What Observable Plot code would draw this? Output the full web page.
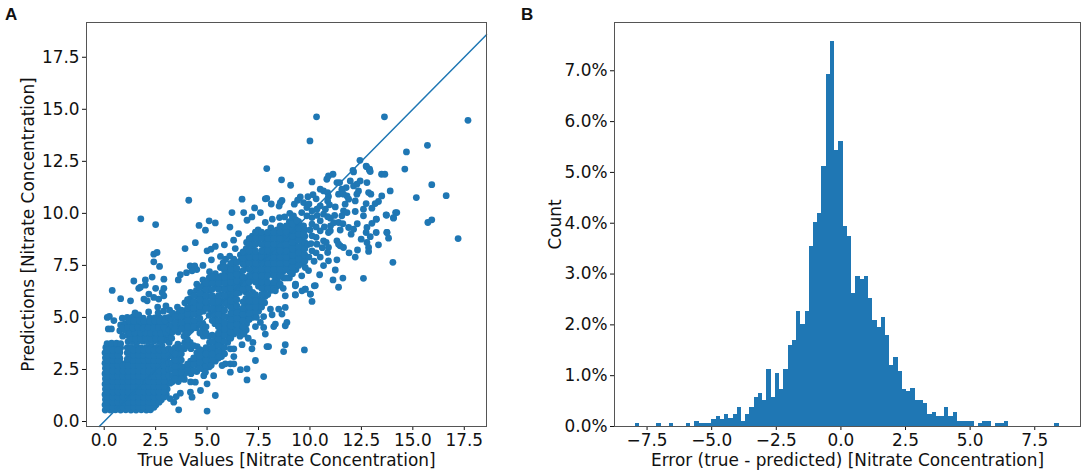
<!DOCTYPE html>
<html>
<head>
<meta charset="utf-8">
<script src="https://cdn.jsdelivr.net/npm/d3@7"></script>
<script src="https://cdn.jsdelivr.net/npm/@observablehq/plot@0.6"></script>
<style>
  html, body { margin: 0; padding: 0; background: #fff; width: 1084px; height: 473px; overflow: hidden; }
  #a, #b { position: absolute; top: 0; }
  #a { left: 0; }
  #b { left: 510px; }
  .letter { position: absolute; top: 5px; font: bold 17px "Liberation Sans", sans-serif; color: #111; }
</style>
</head>
<body>
<div id="a"></div>
<div id="b"></div>
<div class="letter" style="left:5px">A</div>
<div class="letter" style="left:521px">B</div>
<script>
// panel A, points as [true, predicted]
const outliers = [[10.32,14.64],[13.62,14.64],[17.68,14.47],[10,13.48],[15.71,13.27],[14.69,12.95],[14.61,12.13],[12.43,12.55],[12.75,12.24],[12.89,12.07],[12.12,11.99],[13.48,11.88],[13.64,11.88],[15.92,11.38],[13.9,11.08],[16.62,10.85],[15.17,10.76],[14.16,10.04],[14.06,9.8],[15.92,9.69],[15.73,9.56],[17.2,8.79],[13.49,10.84],[13.72,9.91],[13.23,9.72],[12.2,10.09],[8.62,11.61],[9.06,11.35],[10.1,11.51],[13.74,9.08],[14.03,7.65],[12.6,6.88],[7.9,12.15],[4.11,10.63],[1.78,9.74],[2.5,9.46],[6.7,10.68],[7.83,10.7],[7.9,10.72],[8.12,10.45],[8.56,10.52],[8.64,10.62],[8.5,10.35],[6.21,10.04],[6.78,10.04],[7.31,10.26],[7.59,10.04],[7.18,9.83],[6.94,9.67],[7.83,9.56],[8.17,9.72],[8.52,9.8],[8.77,9.83],[5.1,9.64],[5.4,9.54],[4.61,9.42],[4.92,9.19],[6.11,9.34],[6.53,9.03],[4.43,8.59],[3.93,8.31],[6.29,8.71],[5,8.2],[5.19,8.28],[5.4,8.41],[5.84,8.49],[6.37,8.31],[5.21,7.77],[5.65,7.93],[5.9,7.8],[6.1,7.95],[5.65,7.4],[5.82,7.4],[2.41,8.04],[2.57,8.12],[2.41,7.67],[2.69,7.45],[1.44,6.75],[2,6.8],[2.33,6.94],[1.68,6.4],[1.76,6.45],[2,6.55],[2.9,6.84],[2.9,6.4],[2.5,6.4],[0.39,6.3],[3.7,7.05],[3.6,6.8],[4,7.15],[4.18,7.47],[4.4,7.47],[4.5,7.3],[4.8,7.5],[4.27,7.24],[0.8,5.9],[1.28,5.8],[1.93,5.88],[2.09,5.8],[2.17,6.12],[2.41,5.96],[2.65,5.88],[2.9,6.04],[2.82,6.2],[0.15,5],[0.25,5.05],[0.2,4.45],[0.35,4.45],[0.47,4.85]];

const lowerEdge = [[5,0.5],[5.4,1.25],[7.75,2.16],[6.94,2],[6.94,2.53],[6.62,2.49],[7.35,2.93],[7.18,3.49],[7.23,3.8],[6.7,3.69],[3.62,0.56],[3.7,1.36],[3.38,0.93],[3.5,1.2],[3.2,1.1],[4.43,1.89],[4.19,1.41],[4.27,1.17],[4.68,1.49],[5,1.81],[4.84,2.2],[5.32,2.2],[6.13,2.37],[5.73,2.69],[5.89,2.77],[6.13,2.77],[6.3,2.77],[6.13,3.49],[6.3,3.49],[6.3,3.12],[7.91,3.6],[7.99,3.6],[8.72,3.36],[8.8,3.69],[7.75,4.52],[7.83,4.2],[7.59,4.76],[8.24,4.56],[8.32,4.68],[8.8,4.6],[8.88,4.76],[7.35,4.56],[7.75,5.04],[8.16,5.13],[8.64,5.16],[8.8,5.48],[8.48,5.4],[8.08,5.4],[9.73,3.44],[10.1,5.77],[10.02,6.12],[9.77,6.36],[9.61,6.28],[10.21,6.52],[9.29,6.52],[9.29,6.08],[8.8,6.04],[8.32,6.28],[4.92,2.37],[5.6,3.1],[5.2,2.7],[7,4],[7.4,5],[6.8,4.2]];

const lowBlob = [[0.05,0.55],[0.3,0.55],[0.55,0.56],[0.8,0.55],[1.05,0.56],[1.3,0.55],[1.55,0.55],[1.8,0.56],[2.05,0.55],[2.25,0.56],
[0.04,0.8],[0.28,0.82],[0.53,0.8],[0.78,0.82],[1.04,0.8],[1.28,0.82],[1.53,0.8],[1.78,0.82],[2.03,0.8],[2.28,0.82],[2.52,0.8],
[0.06,1.06],[0.3,1.04],[0.56,1.06],[0.8,1.04],[1.06,1.06],[1.3,1.04],[1.56,1.06],[1.8,1.04],[2.06,1.06],[2.3,1.04],[2.55,1.06],[2.78,1.04],
[0.04,1.3],[0.28,1.32],[0.54,1.3],[0.78,1.32],[1.04,1.3],[1.28,1.32],[1.54,1.3],[1.78,1.32],[2.04,1.3],[2.28,1.32],[2.54,1.3],[2.78,1.32],[3.02,1.3],
[0.06,1.56],[0.3,1.54],[0.56,1.56],[0.8,1.54],[1.06,1.56],[1.3,1.54],[1.56,1.56],[1.8,1.54],[2.06,1.56],[2.3,1.54],[2.56,1.56],[2.8,1.54],[3.06,1.56],
[0.04,1.8],[0.28,1.82],[0.54,1.8],[0.78,1.82],[1.04,1.8],[1.28,1.82],[1.54,1.8],[1.78,1.82],[2.04,1.8],[2.28,1.82],[2.54,1.8],[2.78,1.82],[3.04,1.8],[3.2,1.84],
[0.06,2.06],[0.3,2.04],[0.56,2.06],[0.8,2.04],[1.06,2.06],[1.3,2.04],[1.56,2.06],[1.8,2.04],[2.06,2.06],[2.3,2.04],[2.56,2.06],[2.8,2.04],[3.06,2.06],
[0.04,2.3],[0.28,2.32],[0.54,2.3],[0.78,2.32],[1.04,2.3],[1.28,2.32],[1.54,2.3],[1.78,2.32],[2.04,2.3],[2.28,2.32],[2.54,2.3],[2.78,2.32],[3.04,2.3],
[0.06,2.56],[0.3,2.54],[0.56,2.56],[0.8,2.54],[1.06,2.56],[1.3,2.54],[1.56,2.56],[1.8,2.54],[2.06,2.56],[2.3,2.54],[2.56,2.56],[2.8,2.54],[3.06,2.56],
[0.04,2.8],[0.28,2.82],[0.54,2.8],[0.78,2.82],[1.06,2.8],[1.28,2.82],[1.54,2.8],[1.78,2.82],[2.04,2.8],[2.28,2.82],[2.54,2.8],[2.78,2.82],[3.04,2.8],
[0.06,3.06],[0.3,3.04],[0.56,3.06],[0.76,3.04],[1.12,3],[1.3,3.04],[1.56,3.06],[1.8,3.04],[2.06,3.06],[2.3,3.04],[2.56,3.06],[2.8,3.04],[3.06,3.06],
[0.04,3.3],[0.28,3.32],[0.54,3.3],[0.76,3.32],[1.12,3.3],[1.3,3.32],[1.54,3.3],[1.8,3.32],[2.04,3.3],[2.3,3.34],[2.56,3.3],[2.82,3.32],[3.06,3.36],
[0.08,3.56],[0.3,3.54],[0.56,3.56],[0.8,3.54],[1.12,3.55],[1.3,3.56],[1.56,3.58],[1.8,3.54],[2.06,3.56],[2.3,3.6],[2.56,3.56],[2.82,3.62],
[0.14,3.74],[0.36,3.76],[0.6,3.76],[0.8,3.74],[1.16,3.84],[1.4,3.84],[1.64,3.84],[1.9,3.86],[2.14,3.84],[2.4,3.86],[2.66,3.84],[2.92,3.9],[3.1,3.94],
[0.9,4.1],[1.14,4.14],[1.38,4.1],[1.62,4.12],[1.88,4.1],[2.12,4.14],[2.38,4.1],[2.62,4.14],[2.88,4.12],[3.12,4.18],
[0.76,4.36],[1,4.4],[1.26,4.38],[1.5,4.42],[1.76,4.36],[2,4.4],[2.26,4.38],[2.5,4.42],[2.76,4.38],[3,4.44],
[0.8,4.64],[1.02,4.7],[1.3,4.66],[1.54,4.62],[1.82,4.7],[2.06,4.66],[2.32,4.68],[2.58,4.66],[2.84,4.7],[3.08,4.7],
[0.88,4.96],[1.12,5],[1.4,5.02],[1.62,4.9],[1.9,4.96],[2.22,4.96],[2.46,4.98],[2.72,4.96],[2.98,4.98],[1.5,5.22],[1.68,5.12],[2.16,5.26],[2.62,5.22],[2.88,5.3],[3,5.55],[2.6,5.5]];

const blobFill = [[0.17,0.68],[0.42,0.68],[0.67,0.68],[0.92,0.68],[1.17,0.68],[1.42,0.68],[1.67,0.68],[1.92,0.68],[2.17,0.68],[2.42,0.68],
[0.17,0.93],[0.42,0.93],[0.67,0.93],[0.92,0.93],[1.17,0.93],[1.42,0.93],[1.67,0.93],[1.92,0.93],[2.17,0.93],[2.42,0.93],[2.67,0.93],
[0.17,1.18],[0.42,1.18],[0.67,1.18],[0.92,1.18],[1.17,1.18],[1.42,1.18],[1.67,1.18],[1.92,1.18],[2.17,1.18],[2.42,1.18],[2.67,1.18],[2.92,1.18],
[0.17,1.43],[0.42,1.43],[0.67,1.43],[0.92,1.43],[1.17,1.43],[1.42,1.43],[1.67,1.43],[1.92,1.43],[2.17,1.43],[2.42,1.43],[2.67,1.43],[2.92,1.43],
[0.17,1.68],[0.42,1.68],[0.67,1.68],[0.92,1.68],[1.17,1.68],[1.42,1.68],[1.67,1.68],[1.92,1.68],[2.17,1.68],[2.42,1.68],[2.67,1.68],[2.92,1.68],
[0.17,1.93],[0.42,1.93],[0.67,1.93],[0.92,1.93],[1.17,1.93],[1.42,1.93],[1.67,1.93],[1.92,1.93],[2.17,1.93],[2.42,1.93],[2.67,1.93],[2.92,1.93],
[0.17,2.18],[0.42,2.18],[0.67,2.18],[0.92,2.18],[1.17,2.18],[1.42,2.18],[1.67,2.18],[1.92,2.18],[2.17,2.18],[2.42,2.18],[2.67,2.18],[2.92,2.18],
[0.17,2.43],[0.42,2.43],[0.67,2.43],[0.92,2.43],[1.17,2.43],[1.42,2.43],[1.67,2.43],[1.92,2.43],[2.17,2.43],[2.42,2.43],[2.67,2.43],[2.92,2.43],
[0.17,2.68],[0.42,2.68],[0.67,2.68],[0.92,2.68],[1.17,2.68],[1.42,2.68],[1.67,2.68],[1.92,2.68],[2.17,2.68],[2.42,2.68],[2.67,2.68],[2.92,2.68],
[0.17,2.93],[0.42,2.93],[0.67,2.93],[1.42,2.93],[1.67,2.93],[1.92,2.93],[2.17,2.93],[2.42,2.93],[2.67,2.93],[2.92,2.93],
[0.17,3.18],[0.42,3.18],[0.67,3.18],[1.42,3.18],[1.67,3.18],[1.92,3.18],[2.17,3.18],[2.42,3.18],[2.67,3.18],[2.92,3.18],
[0.17,3.43],[0.42,3.43],[0.67,3.43],[1.42,3.43],[1.67,3.43],[1.92,3.43],[2.17,3.43],[2.42,3.43],[2.67,3.43],[2.92,3.43],
[1.27,3.98],[1.52,3.98],[1.77,3.98],[2.02,3.98],[2.27,3.98],[2.52,3.98],[2.77,3.98],[1.26,4.24],[1.5,4.26],[1.76,4.24],[2,4.26],[2.26,4.24],[2.5,4.26],[2.76,4.24],[3,4.28],
[0.9,4.5],[1.14,4.52],[1.4,4.5],[1.64,4.52],[1.9,4.5],[2.14,4.52],[2.4,4.5],[2.64,4.52],[2.9,4.5],[1.2,4.84],[1.44,4.82],[1.72,4.84],[1.94,4.82],[2.2,4.82],[2.46,4.84],[2.7,4.82],[2.96,4.84],
[3.15,2.2],[3.15,2.5],[3.15,2.8],[3.16,3.2],[3.14,3.5],[3.16,3.8],[3.16,4.4],[3.14,5],[3.18,5.35]];

const midBand = [[3.3,1.9],[3.32,2.2],[3.28,2.5],[3.3,2.8],[3.34,3.1],[3.3,3.4],[3.28,4],[3.32,4.3],[3.3,4.6],[3.26,4.9],[3.32,5.2],
[3.6,1.92],[3.62,2.2],[3.6,2.5],[3.58,2.8],[3.62,3.1],[3.6,3.4],[3.58,3.72],[3.6,4.3],[3.62,4.6],[3.58,4.9],[3.6,5.2],[3.56,5.5],
[3.9,2.02],[3.92,2.3],[3.88,2.6],[3.9,3.5],[3.92,3.8],[3.88,4.1],[3.9,4.4],[3.92,4.7],[3.88,5],[3.9,5.3],[3.92,5.7],
[4.2,1.9],[4.22,2.3],[4.18,2.6],[4.2,2.9],[4.22,3.5],[4.18,3.8],[4.2,4.4],[4.22,4.7],[4.18,5],[4.2,5.3],[4.22,5.6],[4.18,5.9],[4.2,6.2],
[4.5,2.4],[4.52,2.7],[4.48,3],[4.5,3.3],[4.52,3.6],[4.48,4.5],[4.5,4.8],[4.52,5.1],[4.48,5.4],[4.5,5.7],[4.52,6],[4.48,6.3],[4.5,6.6],
[4.8,2.52],[4.82,2.8],[4.78,3.1],[4.8,3.4],[4.82,4.1],[4.78,4.4],[4.8,4.7],[4.82,5.3],[4.78,5.6],[4.8,5.9],[4.82,6.2],[4.78,6.5],[4.8,6.8],
[5.1,2.62],[5.12,2.9],[5.08,3.2],[5.1,3.5],[5.12,3.8],[5.08,4.1],[5.1,5.1],[5.12,5.4],[5.08,5.7],[5.1,6],[5.12,6.3],[5.08,6.6],[5.1,6.9],[5.12,7.2],
[5.4,2.9],[5.42,3.2],[5.38,3.5],[5.4,3.8],[5.42,4.1],[5.38,4.7],[5.4,5],[5.42,5.3],[5.38,5.6],[5.4,5.9],[5.42,6.5],[5.38,6.8],[5.4,7.1],
[5.7,3.12],[5.72,3.4],[5.68,3.7],[5.7,4],[5.72,4.3],[5.68,4.6],[5.7,4.9],[5.72,5.2],[5.68,5.5],[5.7,5.8],[5.72,6.1],[5.68,6.4],[5.7,6.7],[5.72,7],[5.78,7.62],
[6,3.8],[6.02,4.1],[5.98,4.4],[6,4.7],[6.02,5],[5.98,5.6],[6,5.9],[6.02,6.2],[5.98,6.5],[6,6.8],[6.02,7.1],[5.98,7.4],
[6.3,4.2],[6.32,4.5],[6.28,4.8],[6.3,5.1],[6.32,5.4],[6.28,5.7],[6.3,6],[6.32,6.3],[6.28,6.6],[6.3,6.9],[6.32,7.2],[6.28,7.5],[6.3,7.8],
[6.6,4.1],[6.62,4.4],[6.58,4.7],[6.6,5],[6.62,5.3],[6.58,6.2],[6.6,6.5],[6.62,6.8],[6.58,7.1],[6.6,7.7],[6.62,8],
[6.9,4.4],[6.92,4.7],[6.88,5],[6.9,5.3],[6.92,5.6],[6.88,5.9],[6.9,6.2],[6.92,6.5],[6.88,6.8],[6.9,7.4],[6.92,7.7],[6.88,8],[6.9,8.3],[6.92,8.6],
[7.2,5],[7.22,5.3],[7.18,5.6],[7.2,5.9],[7.22,6.2],[7.18,6.8],[7.2,7.1],[7.22,7.4],[7.18,7.7],[7.2,8],[7.22,8.3],[7.18,8.6],[7.2,8.9],
[7.5,5.3],[7.52,5.6],[7.48,5.9],[7.5,6.5],[7.52,6.8],[7.48,7.1],[7.5,7.4],[7.52,7.7],[7.48,8],[7.5,8.6],[7.52,8.9],[7.48,9.2],
[7.8,5.7],[7.82,6],[7.78,6.3],[7.8,6.6],[7.82,6.9],[7.78,7.2],[7.8,7.5],[7.82,7.8],[7.78,8.1],[7.8,8.4],[7.82,8.7],[7.78,9],
[8.1,6.3],[8.12,6.6],[8.08,7.2],[8.1,7.5],[8.12,7.8],[8.08,8.1],[8.1,8.4],[8.12,8.7],[8.08,9],[8.1,9.3],
[8.4,6.5],[8.42,6.8],[8.38,7.1],[8.4,7.4],[8.42,7.7],[8.38,8],[8.4,8.3],[8.42,8.6],[8.38,8.9],[8.4,9.2],
[8.7,6.4],[8.72,6.9],[8.68,7.2],[8.7,7.5],[8.72,7.8],[8.68,8.1],[8.7,8.4],[8.72,8.7],[8.68,9],[8.7,9.3],
[9,6.9],[9.02,7.2],[8.98,7.5],[9,7.8],[9.02,8.1],[8.98,8.4],[9,8.7],[9.02,9],[8.98,9.3],[9,9.6],[9.02,10],
[9.3,6.6],[9.32,7.3],[9.28,7.6],[9.3,7.9],[9.32,8.2],[9.28,8.5],[9.3,8.8],[9.32,9.1],[9.28,9.4],[9.3,9.7],
[9.6,7],[9.62,7.6],[9.58,7.9],[9.6,8.2],[9.62,8.5],[9.58,8.8],[9.6,9.1],[9.62,9.4]];

const bandFill = [[3.45,2.05],[3.45,2.35],[3.45,2.65],[3.45,2.95],[3.45,3.25],[3.45,3.55],[3.45,4.45],[3.45,4.75],[3.45,5.05],
[3.75,2.05],[3.75,2.35],[3.75,2.65],[3.75,2.95],[3.75,3.25],[3.75,3.55],[3.75,4.45],[3.75,4.75],[3.75,5.05],[3.75,5.35],
[4.05,2.45],[4.05,2.75],[4.05,3.65],[4.05,3.95],[4.05,4.25],[4.05,4.55],[4.05,4.85],[4.05,5.15],[4.05,5.45],[4.05,5.85],
[4.35,2.45],[4.35,2.75],[4.35,3.05],[4.35,3.65],[4.35,4.55],[4.35,4.85],[4.35,5.15],[4.35,5.45],[4.35,5.75],[4.35,6.05],
[4.65,2.55],[4.65,2.85],[4.65,3.15],[4.65,3.45],[4.65,4.25],[4.65,4.65],[4.65,4.95],[4.65,5.25],[4.65,5.55],[4.65,5.85],[4.65,6.15],[4.65,6.45],
[4.95,2.65],[4.95,2.95],[4.95,3.25],[4.95,3.55],[4.95,4.25],[4.95,4.55],[4.95,5.45],[4.95,5.75],[4.95,6.05],[4.95,6.35],[4.95,6.65],
[5.25,2.95],[5.25,3.25],[5.25,3.55],[5.25,3.85],[5.25,4.15],[5.25,4.85],[5.25,5.15],[5.25,5.45],[5.25,5.75],[5.25,6.05],[5.25,6.35],[5.25,6.65],[5.25,6.95],
[5.55,3.05],[5.55,3.35],[5.55,3.65],[5.55,3.95],[5.55,4.25],[5.55,4.55],[5.55,4.85],[5.55,5.15],[5.55,5.45],[5.55,5.75],[5.55,6.05],[5.55,6.35],[5.55,6.65],[5.55,6.95],
[5.85,3.25],[5.85,3.55],[5.85,3.85],[5.85,4.15],[5.85,4.45],[5.85,4.75],[5.85,5.05],[5.85,5.35],[5.85,5.75],[5.85,6.05],[5.85,6.35],[5.85,6.65],[5.85,6.95],[5.85,7.25],
[6.15,4],[6.15,4.3],[6.15,4.6],[6.15,4.9],[6.15,5.2],[6.15,5.5],[6.15,5.8],[6.15,6.1],[6.15,6.4],[6.15,6.7],[6.15,7],[6.15,7.3],[6.15,7.6],
[6.45,4.35],[6.45,4.65],[6.45,4.95],[6.45,5.25],[6.45,5.55],[6.45,5.85],[6.45,6.15],[6.45,6.45],[6.45,6.75],[6.45,7.05],[6.45,7.35],[6.45,7.65],
[6.75,4.55],[6.75,4.85],[6.75,5.15],[6.75,5.45],[6.75,5.75],[6.75,6.35],[6.75,6.65],[6.75,6.95],[6.75,7.25],[6.75,7.55],[6.75,7.85],[6.75,8.15],
[7.05,4.9],[7.05,5.2],[7.05,5.5],[7.05,5.8],[7.05,6.1],[7.05,6.4],[7.05,6.7],[7.05,7],[7.05,7.3],[7.05,7.6],[7.05,7.9],[7.05,8.2],[7.05,8.5],[7.05,8.8],
[7.35,5.2],[7.35,5.5],[7.35,5.8],[7.35,6.1],[7.35,6.7],[7.35,7],[7.35,7.3],[7.35,7.6],[7.35,7.9],[7.35,8.2],[7.35,8.5],[7.35,8.8],[7.35,9.1],
[7.65,5.5],[7.65,5.8],[7.65,6.1],[7.65,6.4],[7.65,6.7],[7.65,7],[7.65,7.3],[7.65,7.6],[7.65,7.9],[7.65,8.2],[7.65,8.5],[7.65,8.8],[7.65,9.1],
[7.95,6.1],[7.95,6.4],[7.95,6.7],[7.95,7],[7.95,7.3],[7.95,7.6],[7.95,7.9],[7.95,8.2],[7.95,8.5],[7.95,8.8],[7.95,9.1],
[8.25,6.4],[8.25,6.7],[8.25,7],[8.25,7.3],[8.25,7.6],[8.25,7.9],[8.25,8.2],[8.25,8.5],[8.25,8.8],[8.25,9.1],
[8.55,6.6],[8.55,7],[8.55,7.3],[8.55,7.6],[8.55,7.9],[8.55,8.2],[8.55,8.5],[8.55,8.8],[8.55,9.1],[8.55,9.4],
[8.85,6.9],[8.85,7.3],[8.85,7.6],[8.85,7.9],[8.85,8.2],[8.85,8.5],[8.85,8.8],[8.85,9.1],[8.85,9.4],
[9.15,7.1],[9.15,7.4],[9.15,7.7],[9.15,8],[9.15,8.3],[9.15,8.6],[9.15,8.9],[9.15,9.2],[9.15,9.5],[9.15,9.8],
[9.45,7.5],[9.45,7.8],[9.45,8.1],[9.45,8.4],[9.45,8.7],[9.45,9],[9.45,9.3],[9.45,9.6],
[9.75,7.7],[9.75,8],[9.75,8.3],[9.75,8.6],[9.75,8.9],[9.75,9.2]];

const upperBand = [[9.53,10.79],[9.4,10.63],[9.24,10.44],[9.69,10.52],[9.85,10.28],[10.1,10.12],[10.34,10.2],[10.5,10.36],[10.66,9.96],[10.86,9.84],[10.99,9.77],[10.5,9.64],[10.1,9.8],[9.85,9.88],[9.6,10.04],[9.2,9.88],[9.37,9.64],[9.69,9.4],[10.1,9.48],[10.5,9.16],[10.1,8.92],[9.69,9],[10.34,8.52],[10.66,8.68],[10.9,9.08],[10.99,9.16],[11.47,9.2],[11.88,9.32],[12,9],[12.12,9.24],[11.39,9.56],[10.5,11.16],[10.66,11.08],[10.86,11],[10.9,10.81],[10.86,10.6],[10.95,10.41],[11.23,10.31],[10.82,11.64],[10.9,11.8],[11.12,11.88],[11.31,11.48],[11.44,11.48],[12.09,12.07],[12.73,12.27],[12.9,12.12],[12.93,12.01],[12.96,10.92],[12.85,11],[12.77,11.48],[12.44,11.56],[12.28,11.4],[11.96,11.56],[12.12,11.32],[11.76,11.24],[11.55,11.16],[11.39,10.92],[11.63,10.92],[11.88,10.68],[12.2,10.6],[11.8,10.84],[12.36,11.08],[12.28,10.92],[13.33,10.57],[13.17,10.47],[12.73,10.47],[12.6,10.2],[13.01,10.25],[12.6,9.88],[11.71,10.44],[11.63,10.12],[11.55,9.88],[11.8,10.04],[13.7,9.93],[13.22,9.72],[14.22,10.04],[14.06,9.77],[13.01,9.52],[12.77,9.32],[12.73,9.08],[12.93,8.88],[13.22,9.08],[13.74,9.08],[13.82,8.81],[12.49,8.76],[12.77,8.6],[12.85,8.36],[13.33,8.49],[12.31,8.24],[12.85,8.17],[11.31,8.68],[11.47,8.44],[11.63,8.36],[11.39,8.52],[10.79,8.6],[10.9,8.36],[10.86,8.12],[11.31,7.77],[10.9,7.72],[11.23,7.28],[11.12,6.8],[11.6,6.89],[11.39,6.45],[10.26,6.53],[9.77,6.36],[9.29,6.57],[10.02,6.12],[9.29,6.09],[10.66,7.49],[10.47,7.05],[9.93,7.25],[9.77,7.4],[10.1,8.2],[10.3,8.1],[9.9,8.5],[10.2,7.7],[10.5,7.9],[9.95,7.9],[10.6,8.35],[10.15,10.9],[10.3,10.7],[9.9,10.8],[11,9.4],[11.2,9.9],[11.6,9.5],[12.3,9.5],[11.9,8.1],[12.2,7.9],[10,9.2],[10.3,9.35],[10.3,8.85],[10.05,8.55],[10.35,9.9],[9.95,10.45],[10.7,9.35],[11.15,9.55],[10.75,10.2]];

const diagonal = [-0.24, 18.58];
const xTicksA = [0, 2.5, 5, 7.5, 10, 12.5, 15, 17.5];
const yTicksA = [0, 2.5, 5, 7.5, 10, 12.5, 15, 17.5];

// panel B, share of samples per bin, in percent
const errorStart = -7.94;
const errorStep = 0.1638;
const errorPct = [0.05,0,0,0,0,0.05,0,0,0.05,0,
  0,0,0.05,0,0.1,0.05,0.05,0.05,0.13,0.2,
  0.13,0.24,0.16,0.24,0.37,0.1,0.24,0.37,0.57,0.65,
  0.51,1.12,0.57,1.05,0.72,1.12,1.59,1.7,2.27,2,
  2.27,3.54,4.01,4.2,5.12,6.92,7.57,5.43,5.6,3.93,
  3.73,2.62,2.95,2.89,2.95,2.51,2.08,1.94,2.15,1.79,
  1.2,1.36,1.08,0.72,0.68,0.75,0.52,0.52,0.45,0.24,
  0.28,0.2,0.2,0.37,0.2,0.28,0.1,0.1,0.1,0.1,
  0,0.05,0.1,0.1,0,0.05,0.05,0.1,0,0,
  0,0,0,0,0,0,0,0,0,0.05];
const xTicksB = [-7.5, -5, -2.5, 0, 2.5, 5, 7.5];
const yTicksB = [0, 1, 2, 3, 4, 5, 6, 7];

const blue = "#1f77b4";
const style = {fontFamily: "DejaVu Sans", fontSize: "16.9px", color: "#111", background: "#fff"};

const points = [...lowBlob, ...blobFill, ...midBand, ...bandFill, ...upperBand, ...lowerEdge, ...outliers];

const chartA = Plot.plot({
  width: 500, height: 473,
  marginLeft: 86, marginRight: 14, marginTop: 22, marginBottom: 47,
  style,
  x: {domain: [-0.86, 18.58]},
  y: {domain: [-0.24, 19.17]},
  marks: [
    Plot.dot(points, {x: d => d[0], y: d => d[1], r: 3.4, fill: blue}),
    Plot.line(diagonal, {x: d => d, y: d => d, stroke: blue, strokeWidth: 1.5}),
    Plot.axisX({ticks: xTicksA, tickFormat: d3.format(".1f"), tickSize: 4, tickPadding: 3, label: "True Values [Nitrate Concentration]", labelAnchor: "center", labelArrow: "none", labelOffset: 39}),
    Plot.axisY({ticks: yTicksA, tickFormat: d3.format(".1f"), tickSize: 4, tickPadding: 3, label: "Predictions [Nitrate Concentration]", labelAnchor: "center", labelArrow: "none", labelOffset: 65}),
    Plot.frame({stroke: "#555"})
  ]
});
d3.select("#a").append(() => chartA);

const bins = errorPct.map((p, i) => ({x1: errorStart + i * errorStep, x2: errorStart + (i + 1) * errorStep, pct: p}))
  .filter(d => d.pct > 0);

const chartB = Plot.plot({
  width: 574, height: 473,
  marginLeft: 104, marginRight: 4, marginTop: 22, marginBottom: 47,
  style,
  x: {domain: [-8.76, 9.27]},
  y: {domain: [0, 7.95]},
  marks: [
    Plot.rectY(bins, {x1: "x1", x2: "x2", y1: () => 0, y2: "pct", fill: blue, shapeRendering: "crispEdges"}),
    Plot.axisX({ticks: xTicksB, tickFormat: d3.format(".1f"), tickSize: 4, tickPadding: 3, label: "Error (true - predicted) [Nitrate Concentration]", labelAnchor: "center", labelArrow: "none", labelOffset: 39}),
    Plot.axisY({ticks: yTicksB, tickFormat: d => d.toFixed(1) + "%", tickSize: 4, tickPadding: 3, label: "Count", labelAnchor: "center", labelArrow: "none", labelOffset: 66}),
    Plot.frame({stroke: "#555"})
  ]
});
d3.select("#b").append(() => chartB);
</script>
</body>
</html>
